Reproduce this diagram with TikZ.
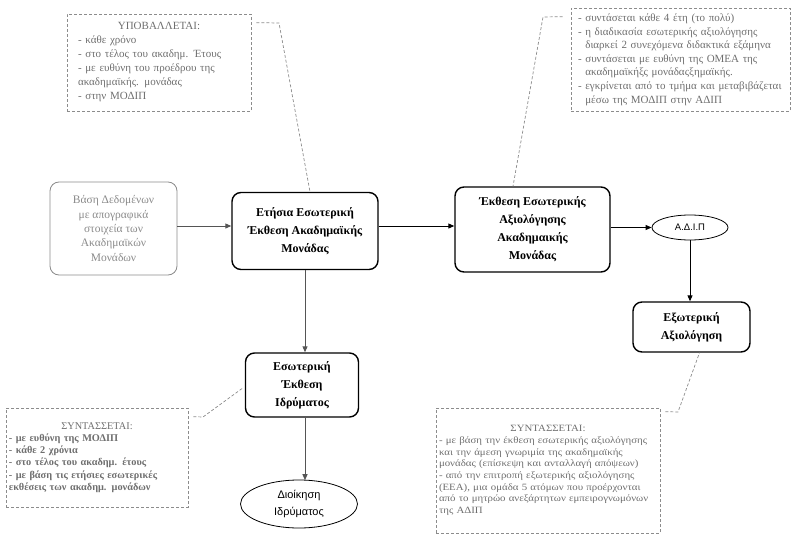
\documentclass[tikz,border=0pt]{standalone}
\usepackage{fontspec}
\setmainfont{Liberation Serif}
\newfontfamily\grsans{Liberation Sans}
\newfontfamily\widefont[FakeStretch=1.13]{Liberation Serif}
\usetikzlibrary{arrows.meta,shapes.geometric,calc}
\definecolor{notegray}{HTML}{6E6E6E}
\definecolor{dashgray}{HTML}{8C8C8C}
\definecolor{dbgray}{HTML}{8A8A8A}
\definecolor{arrgray}{HTML}{555555}
\tikzset{
  mainbox/.style={draw=black, line width=1.4pt, rounded corners=9pt, align=center,
    font=\fontsize{12}{18}\selectfont\bfseries, inner sep=2pt},
  dbbox/.style={draw=dbgray, line width=0.8pt, rounded corners=9pt, align=center,
    text=dbgray, font=\fontsize{11.5}{14.5}\selectfont, inner sep=2pt},
  ovalnode/.style={draw=black, line width=0.8pt, ellipse, align=center, inner sep=0pt},
  notebox/.style={draw=dashgray, dash pattern=on 3pt off 2pt, line width=0.7pt,
    text=notegray, align=left, inner sep=0pt},
  notelink/.style={draw=dashgray, dash pattern=on 3pt off 2pt, line width=0.7pt},
  flow/.style={draw=arrgray, line width=1pt, -{Triangle[length=6pt,width=5pt]}},
  flowk/.style={draw=black, line width=1pt, -{Triangle[length=6pt,width=5pt]}}
}
\begin{document}
\begin{tikzpicture}[x=1pt,y=-1pt]
\useasboundingbox (0,0) rectangle (796,538);

\node[dbbox, minimum width=127pt, minimum height=93pt] (db) at (113.5,228.5)
  {Βάση Δεδομένων\\με απογραφικά\\στοιχεία των\\Ακαδημαϊκών\\Μονάδων};
\node[mainbox, minimum width=146pt, minimum height=77pt] (ann) at (305,231)
  {Ετήσια Εσωτερική\\Έκθεση Ακαδημαϊκής\\Μονάδας};
\node[mainbox, minimum width=155pt, minimum height=85pt] (eka) at (532.5,229.5)
  {Έκθεση Εσωτερικής\\Αξιολόγησης\\Ακαδημαικής\\Μονάδας};
\node[ovalnode, minimum width=76pt, minimum height=25pt, font=\grsans\fontsize{9.5}{11}\selectfont] (adip) at (690,227.5) {Α.Δ.Ι.Π};
\node[mainbox, minimum width=117pt, minimum height=50pt] (ext) at (691.5,327)
  {Εξωτερική\\Αξιολόγηση};
\node[mainbox, minimum width=113pt, minimum height=64pt] (inst) at (302,385)
  {Εσωτερική\\Έκθεση\\Ιδρύματος};
\node[ovalnode, minimum width=117pt, minimum height=48pt, font=\grsans\fontsize{11}{17}\selectfont] (admin) at (299,504)
  {Διοίκηση\\Ιδρύματος};

\draw[flow] (db.east |- 0,226) -- (ann.west |- 0,226);
\draw[flowk] (ann.east |- 0,226) -- (eka.west |- 0,226);
\draw[flowk] (eka.east |- adip.west) -- (adip.west);
\draw[flowk] (adip.south) -- (adip.south |- ext.north);
\draw[flow] (ann.south -| 305,0) -- (inst.north -| 305,0);
\draw[flow] (inst.south -| 305,0) -- ($(admin.north -| 305,0)+(0,0.6)$);

\node[notebox, minimum width=184pt, minimum height=97pt, text width=162pt,
  font=\fontsize{11}{14}\selectfont] (c1) at (159,62.5)
  {{\centering ΥΠΟΒΑΛΛΕΤΑΙ:\par}
   - κάθε χρόνο\\
   - στο τέλος  του ακαδημ. Έτους\\
   - με ευθύνη  του προέδρου της\\
   ακαδημαϊκής. μονάδας\\
   - στην ΜΟΔΙΠ};
\node[notebox, minimum width=219pt, minimum height=103pt, text width=205pt,
  font=\fontsize{11}{13.6}\selectfont] (c2) at (680.5,59.5)
  {- συντάσεται  κάθε 4 έτη (το πολύ)\\
   - η διαδικασία εσωτερικής αξιολόγησης\\
   \hphantom{-} διαρκεί 2 συνεχόμενα  διδακτικά εξάμηνα\\
   - συντάσεται  με ευθύνη  της ΟΜΕΑ της\\
   \hphantom{-} ακαδημαϊκήξς μονάδαςξημαϊκής.\\
   - εγκρίνεται από το τμήμα και μεταβιβάζεται\\
   \hphantom{-} μέσω  της ΜΟΔΙΠ στην ΑΔΙΠ};
\node[notebox, minimum width=182pt, minimum height=99pt, text width=176pt,
  font=\fontsize{10.3}{12.3}\selectfont] (c3) at (97,457.5)
  {{\centering ΣΥΝΤΑΣΣΕΤΑΙ:\par}
   \textbf{- με ευθύνη της ΜΟΔΙΠ}\\
   \textbf{- κάθε 2 χρόνια}\\
   \textbf{- στο τέλος του ακαδημ.  έτους}\\
   \textbf{- με βάση τις ετήσιες εσωτερικές}\\
   \textbf{εκθέσεις των ακαδημ.  μονάδων}};
\node[notebox, minimum width=224pt, minimum height=125pt, text width=218pt,
  font=\widefont\fontsize{9.6}{11.7}\selectfont] (c4) at (548,470.5)
  {{\centering ΣΥΝΤΑΣΣΕΤΑΙ:\par}
   - με βάση την έκθεση  εσωτερικής αξιολόγησης\\
   και την άμεση  γνωριμία της ακαδημαϊκής\\
   μονάδας (επίσκεψη και ανταλλαγή απόψεων)\\
   - από την επιτροπή εξωτερικής αξιολόγησης\\
   (ΕΕΑ), μια ομάδα 5 ατόμων που προέρχονται\\
   από το μητρώο ανεξάρτητων εμπειρογνωμόνων\\
   της ΑΔΙΠ};

\coordinate (k1) at (279,23);
\draw[notelink] ($(c1.north east)+(5,9)$) -- (k1) -- ($(ann.north)+(5,0)$);
\coordinate (k2) at (543,17);
\draw[notelink] ($(c2.north west)+(-8,9)$) -- (k2) -- ($(eka.north)+(-19.5,0)$);
\coordinate (k3) at (203,417);
\draw[notelink] ($(c3.north east)+(5,9)$) -- (k3) -- ($(inst.west)+(-2,3)$);
\coordinate (k4) at (678,412);
\draw[notelink] ($(c4.north east)+(5,4)$) -- (k4) -- ($(ext.south)+(8,0)$);
\end{tikzpicture}
\end{document}
